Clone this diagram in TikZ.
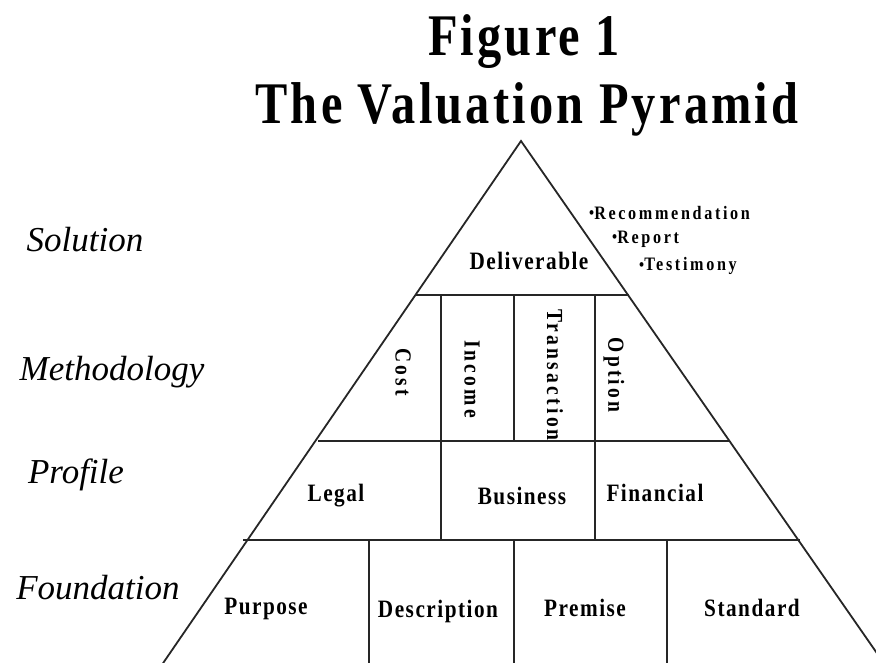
\documentclass[tikz,border=0pt]{standalone}
\usepackage{fontspec}
\setmainfont{Liberation Serif}
\newfontfamily\pyrfont[FakeStretch=0.85, LetterSpace=6]{Liberation Serif}
\newfontfamily\spreadfont[FakeStretch=0.85, LetterSpace=14]{Liberation Serif}
\newfontfamily\headfont[FakeStretch=0.82, LetterSpace=5.5]{Liberation Serif}
\newcommand{\dotmark}{\raisebox{0.5pt}{\fontsize{17}{17}\selectfont\textbullet}}
\usetikzlibrary{positioning}

\tikzset{
   block/.style={font=\pyrfont\bfseries\fontsize{25}{28}\selectfont, inner sep=0pt},
   method/.style={block, rotate=-90, font=\spreadfont\bfseries\fontsize{23}{26}\selectfont},
   bullet/.style={anchor=west, inner sep=0pt, font=\spreadfont\bfseries\fontsize{19}{22}\selectfont},
   level/.style={inner sep=0pt, font=\itshape\fontsize{35}{40}\selectfont},
   title/.style={inner sep=0pt, font=\headfont\bfseries\fontsize{59}{60}\selectfont},
   wall/.style={line width=1.8pt, black!85},
}

\begin{document}
\begin{tikzpicture}[x=1pt, y=-1pt]
\useasboundingbox (0,0) rectangle (876,663);
\clip (0,0) rectangle (876,663);

% title
\node[title] (fig) at (524,42) {Figure 1};
\node[title] (name) at (527,109) {The Valuation Pyramid};

% pyramid outline and tiers
\coordinate (apex) at (521,141);
\coordinate (lfoot) at (157,672);
\coordinate (rfoot) at (890,672);
\draw[wall] (lfoot) -- (apex) -- (rfoot);
\draw[wall] (415,295) -- (629,295);
\draw[wall] (318,441) -- (730,441);
\draw[wall] (243,540) -- (800,540);
% dividers
\foreach \x in {441,514,595} \draw[wall] (\x,295) -- (\x,441);
\foreach \x in {441,595} \draw[wall] (\x,441) -- (\x,540);
\foreach \x in {369,514,667} \draw[wall] (\x,540) -- (\x,670);

% solution
\node[block] (deliv) at (529,261) {Deliverable};
\node[bullet] (recom) at (589,213) {\dotmark Recommendation};
\node[bullet] (report) at (612,239) {\dotmark Report};
\node[bullet] (testim) at (639,266) {\dotmark Testimony};

% methodology
\node[method] (cost) at (403,372) {Cost};
\node[method] (income) at (472,379) {Income};
\node[method] (trans) at (555,375) {Transaction};
\node[method] (option) at (614,375) {Option};

% profile
\node[block] (legal) at (336,496) {Legal};
\node[block] (business) at (522,496) {Business};
\node[block] (financial) at (655,493) {Financial};

% foundation
\node[block] (purpose) at (266,609) {Purpose};
\node[block] (descr) at (438,611) {Description};
\node[block] (premise) at (585,608) {Premise};
\node[block] (standard) at (752,608) {Standard};

% levels
\node[level] (sol) at (85,240) {Solution};
\node[level] (meth) at (112,372) {Methodology};
\node[level] (prof) at (76,475) {Profile};
\node[level] (found) at (98,588) {Foundation};
\end{tikzpicture}
\end{document}
